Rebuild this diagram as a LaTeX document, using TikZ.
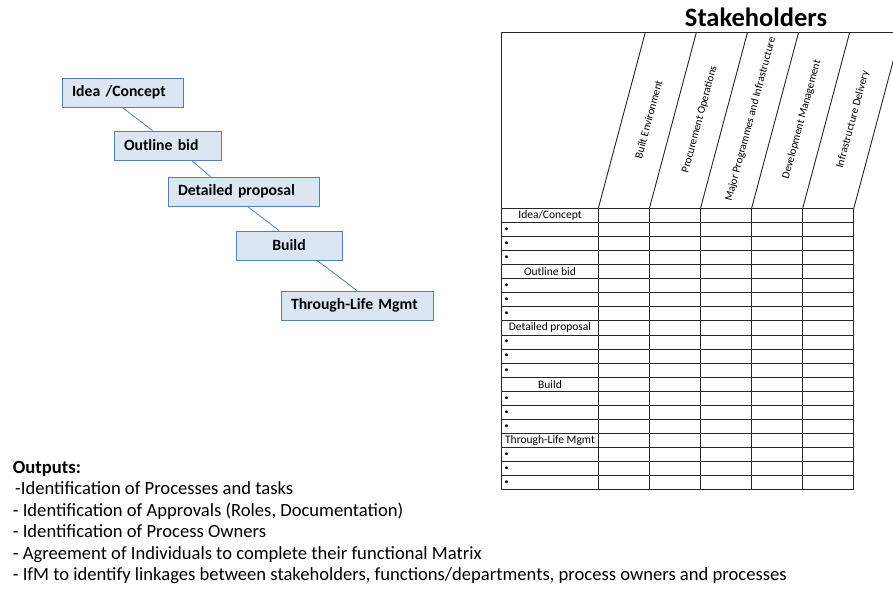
\documentclass[tikz,border=0pt]{standalone}
\usepackage{fontspec}
\setmainfont{Carlito}
\definecolor{stagefill}{HTML}{DCE6F2}
\definecolor{stageline}{HTML}{4F81BD}
\tikzset{
  stage/.style={draw=stageline, fill=stagefill, line width=0.8pt,
    font=\bfseries\fontsize{15.7}{18}\selectfont, minimum height=29pt,
    inner xsep=10pt, inner ysep=0pt, align=left},
  grid/.style={draw=black!85, line width=0.9pt},
  rowlab/.style={font=\fontsize{11.5}{13}\selectfont, inner sep=0pt},
  dot/.style={font=\fontsize{8}{10}\selectfont, inner sep=0pt},
  colhead/.style={font=\fontsize{11}{13}\selectfont, rotate=75, inner sep=0pt},
  outline/.style={font=\fontsize{18.6}{20}\selectfont, anchor=base west, inner sep=0pt}
}
\begin{document}
\begin{tikzpicture}[x=1pt,y=-1pt]
  \useasboundingbox (0,0) rectangle (893,590);
  % process stages
  \node[stage, text width=101pt] (idea) at (122.5,92.7) {Idea /Concept};
  \node[stage, text width=87pt] (bid) at (167.5,145.5) {Outline bid};
  \node[stage, text width=131pt] (prop) at (243.5,191.5) {Detailed proposal};
  \node[stage, text width=86pt, align=center] (build) at (289,245.5) {Build};
  \node[stage, text width=132pt] (tlm) at (357,305.5) {Through-Life Mgmt};
  \begin{scope}[stageline, line width=0.8pt]
    \draw (idea.south) to ([xshift=-15pt]bid.north);
    \draw ([xshift=24pt]bid.south) to ([xshift=-33pt]prop.north);
    \draw ([xshift=4pt]prop.south) to ([xshift=-10pt]build.north);
    \draw ([xshift=28pt]build.south) to (tlm.north);
  \end{scope}
  % stakeholder matrix
  \node[font=\bfseries\fontsize{26.5}{30}\selectfont, anchor=base] (title) at (756,26.5) {Stakeholders};
  \draw[grid] (893,32.3) -- (501.7,32.3) -- (501.7,489.9);
  \draw[grid] (853.8,208.3) -- (853.8,489.9);
  \draw[grid]
    (501.7,208.3) -- (853.8,208.3)
    (501.7,222.4) -- (853.8,222.4)
    (501.7,236.5) -- (853.8,236.5)
    (501.7,250.5) -- (853.8,250.5)
    (501.7,264.6) -- (853.8,264.6)
    (501.7,278.7) -- (853.8,278.7)
    (501.7,292.8) -- (853.8,292.8)
    (501.7,306.9) -- (853.8,306.9)
    (501.7,320.9) -- (853.8,320.9)
    (501.7,335.0) -- (853.8,335.0)
    (501.7,349.1) -- (853.8,349.1)
    (501.7,363.2) -- (853.8,363.2)
    (501.7,377.3) -- (853.8,377.3)
    (501.7,391.3) -- (853.8,391.3)
    (501.7,405.4) -- (853.8,405.4)
    (501.7,419.5) -- (853.8,419.5)
    (501.7,433.6) -- (853.8,433.6)
    (501.7,447.7) -- (853.8,447.7)
    (501.7,461.7) -- (853.8,461.7)
    (501.7,475.8) -- (853.8,475.8)
    (501.7,489.9) -- (853.8,489.9);
  \draw[grid]
    (598.3,208.3) -- (598.3,489.9)
    (649.4,208.3) -- (649.4,489.9)
    (700.5,208.3) -- (700.5,489.9)
    (751.6,208.3) -- (751.6,489.9)
    (802.7,208.3) -- (802.7,489.9);
  \begin{scope}
    \clip (0,32.3) rectangle (893,590);
    \draw[grid]
      (598.3,208.3) -- (645.3,32.3)
      (649.4,208.3) -- (696.4,32.3)
      (700.5,208.3) -- (747.5,32.3)
      (751.6,208.3) -- (798.6,32.3)
      (802.7,208.3) -- (849.7,32.3)
      (853.8,208.3) -- (900.8,32.3);
    \node[colhead] (h1) at (648.5,119.5) {Built Environment};
    \node[colhead] (h2) at (699.6,119.5) {Procurement Operations};
    \node[colhead] (h3) at (750.7,119.5) {Major Programmes and Infrastructure};
    \node[colhead] (h4) at (801.8,119.5) {Development Management};
    \node[colhead] (h5) at (852.9,119.5) {Infrastructure Delivery};
  \end{scope}
  % row labels
  \node[rowlab] (r1) at (550,215.4) {Idea/Concept};
  \node[rowlab] (r2) at (550,271.6) {Outline bid};
  \node[rowlab] (r3) at (550,327.9) {Detailed proposal};
  \node[rowlab] (r4) at (550,384.3) {Build};
  \node[rowlab] (r5) at (550,440.6) {Through-Life Mgmt};
  \node[dot] (b1) at (506.7,229.4) {•};
  \node[dot] (b2) at (506.7,243.5) {•};
  \node[dot] (b3) at (506.7,257.6) {•};
  \node[dot] (b4) at (506.7,285.7) {•};
  \node[dot] (b5) at (506.7,299.8) {•};
  \node[dot] (b6) at (506.7,313.9) {•};
  \node[dot] (b7) at (506.7,342.0) {•};
  \node[dot] (b8) at (506.7,356.1) {•};
  \node[dot] (b9) at (506.7,370.2) {•};
  \node[dot] (b10) at (506.7,398.4) {•};
  \node[dot] (b11) at (506.7,412.5) {•};
  \node[dot] (b12) at (506.7,426.5) {•};
  \node[dot] (b13) at (506.7,454.6) {•};
  \node[dot] (b14) at (506.7,468.7) {•};
  \node[dot] (b15) at (506.7,482.8) {•};
  % outputs
  \node[outline, font=\bfseries\fontsize{18.6}{20}\selectfont] (o0) at (12.7,473.3) {Outputs:};
  \node[outline] (o1) at (15,494.8) {-Identification of Processes and tasks};
  \node[outline] (o2) at (12.7,516.3) {- Identification of Approvals (Roles, Documentation)};
  \node[outline] (o3) at (12.7,537.8) {- Identification of Process Owners};
  \node[outline] (o4) at (12.7,559.3) {- Agreement of Individuals to complete their functional Matrix};
  \node[outline] (o5) at (12.7,580.8) {- IfM to identify linkages between stakeholders, functions/departments, process owners and processes};
\end{tikzpicture}
\end{document}
